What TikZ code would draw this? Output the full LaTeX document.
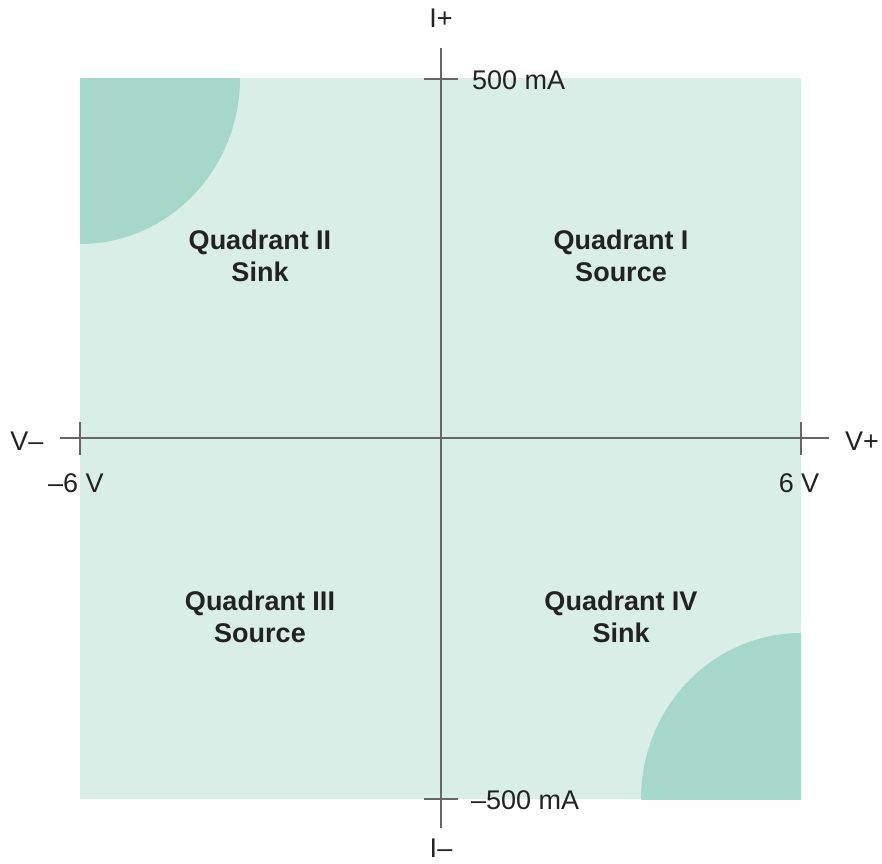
\documentclass[tikz,border=0pt]{standalone}
\usepackage{fontspec}
\setmainfont{Liberation Sans}
\definecolor{lightfill}{HTML}{D9EEE7}
\definecolor{darkfill}{HTML}{A5D8CA}
\definecolor{axisgray}{HTML}{666666}
\definecolor{txt}{HTML}{222222}
\begin{document}
\begin{tikzpicture}[x=1pt,y=-1pt,
  axisline/.style={draw=axisgray,line width=1.6pt},
  lbl/.style={text=txt,font=\fontsize{27}{30}\selectfont,inner sep=0pt},
  quad/.style={text=txt,font=\bfseries\fontsize{27}{32}\selectfont,align=center,inner sep=0pt}]
\useasboundingbox (0,0) rectangle (882,863);
\fill[lightfill] (80,78) rectangle (801,799);
\begin{scope}
\clip (80,78) rectangle (801,799);
\fill[darkfill] (80,78) ellipse[x radius=160pt,y radius=166pt];
\fill[darkfill] (801,799) ellipse[x radius=160pt,y radius=166pt];
\end{scope}
% axes
\coordinate (hl) at (60,438);
\coordinate (hr) at (829,438);
\coordinate (vt) at (441,48);
\coordinate (vb) at (441,828);
\draw[axisline] (hl) -- (hr);
\draw[axisline] (vt) -- (vb);
% ticks
\coordinate (tl1) at (80,422); \coordinate (tl2) at (80,455);
\coordinate (tr1) at (801,422); \coordinate (tr2) at (801,455);
\coordinate (tt1) at (424,79); \coordinate (tt2) at (458,79);
\coordinate (tb1) at (424,799); \coordinate (tb2) at (458,799);
\draw[axisline] (tl1) -- (tl2);
\draw[axisline] (tr1) -- (tr2);
\draw[axisline] (tt1) -- (tt2);
\draw[axisline] (tb1) -- (tb2);
% labels
\node[lbl] (vminus) at (27,441) {V–};
\node[lbl] (vplus) at (862,441) {V+};
\node[lbl] (m6) at (76,483) {–6 V};
\node[lbl] (p6) at (799,483) {6 V};
\node[lbl] (iplus) at (441,18) {I+};
\node[lbl] (iminus) at (441,848) {I–};
\node[lbl,anchor=west] (ma500) at (472,80) {500 mA};
\node[lbl,anchor=west] (mam500) at (471,800) {–500 mA};
\node[quad] (q2) at (260,256) {Quadrant II\\Sink};
\node[quad] (q1) at (621,256) {Quadrant I\\Source};
\node[quad] (q3) at (260,617) {Quadrant III\\Source};
\node[quad] (q4) at (621,617) {Quadrant IV\\Sink};
\end{tikzpicture}
\end{document}
